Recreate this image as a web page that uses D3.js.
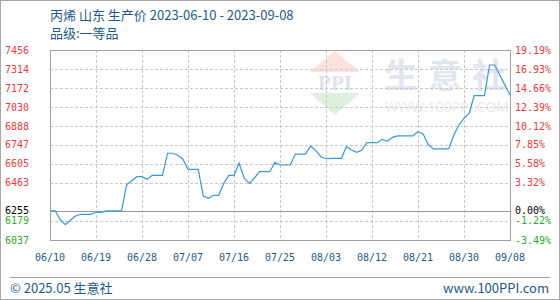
<!DOCTYPE html>
<html>
<head>
<meta charset="utf-8">
<script src="https://cdn.jsdelivr.net/npm/d3@7"></script>
<style>
body{margin:0;background:#fff}
</style>
</head>
<body>
<div id="chart"></div>
<script>
var startDay = "2023-06-10"
// daily prices, 06/10 .. 09/08
var prices = [6255, 6255, 6190, 6151, 6185, 6216, 6229, 6229, 6229, 6244,
	6244, 6255, 6255, 6255, 6255, 6450, 6480, 6510, 6510, 6490,
	6520, 6520, 6520, 6685, 6685, 6670, 6640, 6565, 6565, 6565,
	6365, 6348, 6371, 6371, 6460, 6520, 6520, 6610, 6498, 6460,
	6500, 6547, 6547, 6547, 6617, 6597, 6597, 6597, 6679, 6679,
	6679, 6739, 6705, 6659, 6644, 6647, 6647, 6647, 6734, 6709,
	6692, 6709, 6764, 6764, 6764, 6789, 6774, 6804, 6814, 6814,
	6814, 6814, 6846, 6829, 6750, 6717, 6717, 6717, 6717, 6821,
	6896, 6946, 6983, 7115, 7115, 7115, 7344, 7344, 7269, 7195,
	7120]
var baseValue = 6255
var leftTicks = [7456, 7314, 7172, 7030, 6888, 6747, 6605, 6463, 6255, 6179, 6037]
var rightLabels = ["19.19%", "16.93%", "14.66%", "12.39%", "10.12%", "7.85%", "5.58%", "3.32%", "0.00%", "-1.22%", "-3.49%"]
var xLabels = ["06/10", "06/19", "06/28", "07/07", "07/16", "07/25", "08/03", "08/12", "08/21", "08/30", "09/08"]

var w = 560, h = 300
var pl = 50, pr = 510, pt = 50, pb = 240
var blue = "#1d5a8a"

var start = d3.timeParse("%Y-%m-%d")(startDay)
var parseLabel = d3.timeParse("%Y/%m/%d")

var x = d3.scaleTime()
	.domain([start, d3.timeDay.offset(start, prices.length - 1)])
	.range([pl, pr])
var y = d3.scaleLinear()
	.domain([d3.min(leftTicks), d3.max(leftTicks)])
	.range([pb, pt])

function tickColor(v){
	if (v > baseValue) return "#f03a3a";
	if (v < baseValue) return "#2eaa2e";
	return "#000";
}

var svg = d3.select("#chart")
	.append("svg")
	.attr("width", w)
	.attr("height", h)
	.style("display", "block")

// outer frame
svg.append("rect")
	.attr("x", 0.5).attr("y", 0.5)
	.attr("width", w - 1).attr("height", h - 1)
	.attr("fill", "#fff")
	.attr("stroke", "#a8a8a8")

// watermark
var wm = svg.append("g").attr("class", "watermark")
wm.append("path")
	.attr("d", "M335,51 L310,72 L360,72 Z")
	.attr("fill", "#fbe3dc")
wm.append("text")
	.attr("x", 335).attr("y", 90)
	.attr("text-anchor", "middle")
	.attr("font-family", "Liberation Serif")
	.attr("font-weight", "bold")
	.attr("font-size", "21px")
	.attr("fill", "#dfe3ee")
	.text("PPI")
wm.append("path")
	.attr("d", "M310,93 L360,93 L335,115 Z")
	.attr("fill", "#ddf0dc")
wm.append("text")
	.attr("x", 384).attr("y", 88)
	.attr("font-family", "Noto Sans CJK SC")
	.attr("font-weight", "bold")
	.attr("font-size", "34px")
	.attr("letter-spacing", "10px")
	.attr("fill", "#e2e6ef")
	.text("生意社")
wm.append("text")
	.attr("x", 385).attr("y", 112)
	.attr("font-family", "Noto Sans")
	.attr("font-size", "15px")
	.attr("textLength", 124)
	.attr("lengthAdjust", "spacingAndGlyphs")
	.attr("fill", "#ebebeb")
	.text("WWW.100PPI.COM")

// horizontal grid
svg.append("g")
	.selectAll("line")
	.data(leftTicks.filter(function(d){ return d != baseValue && d != d3.max(leftTicks) && d != d3.min(leftTicks); }))
	.enter()
	.append("line")
	.attr("x1", pl).attr("x2", pr)
	.attr("y1", function(d){ return Math.round(y(d)) + 0.5; })
	.attr("y2", function(d){ return Math.round(y(d)) + 0.5; })
	.attr("stroke", "#c8c8c8")
	.attr("stroke-dasharray", "3,2")

// vertical grid
var xDates = xLabels.map(function(d){ return parseLabel("2023/" + d); })
svg.append("g")
	.selectAll("line")
	.data(xDates.slice(1, -1))
	.enter()
	.append("line")
	.attr("y1", pt).attr("y2", pb)
	.attr("x1", function(d){ return Math.round(x(d)) + 0.5; })
	.attr("x2", function(d){ return Math.round(x(d)) + 0.5; })
	.attr("stroke", "#c8c8c8")
	.attr("stroke-dasharray", "3,2")

// base line
svg.append("line")
	.attr("x1", pl).attr("x2", pr)
	.attr("y1", Math.round(y(baseValue)) + 0.5)
	.attr("y2", Math.round(y(baseValue)) + 0.5)
	.attr("stroke", "#9a9a9a")

// plot frame
svg.append("rect")
	.attr("x", pl + 0.5).attr("y", pt + 0.5)
	.attr("width", pr - pl).attr("height", pb - pt)
	.attr("fill", "none")
	.attr("stroke", "#a0a0a0")

// price line
var line = d3.line()
	.x(function(d, i){ return x(d3.timeDay.offset(start, i)); })
	.y(function(d){ return y(d); })
svg.append("path")
	.datum(prices)
	.attr("d", line)
	.attr("fill", "none")
	.attr("stroke", "#3a98d6")
	.attr("stroke-width", 1.2)

// left labels
svg.append("g")
	.selectAll("text")
	.data(leftTicks)
	.enter()
	.append("text")
	.attr("x", 5)
	.attr("y", function(d){ return y(d); })
	.attr("dy", "0.35em")
	.attr("font-family", "DejaVu Sans Mono")
	.attr("font-size", "10px")
	.attr("fill", function(d){ return tickColor(d); })
	.text(function(d){ return d; })

// right labels
svg.append("g")
	.selectAll("text")
	.data(leftTicks)
	.enter()
	.append("text")
	.attr("x", 515)
	.attr("y", function(d){ return y(d); })
	.attr("dy", "0.35em")
	.attr("font-family", "DejaVu Sans Mono")
	.attr("font-size", "10px")
	.attr("fill", function(d){ return tickColor(d); })
	.text(function(d, i){ return rightLabels[i]; })

// x labels
svg.append("g")
	.selectAll("text")
	.data(xLabels)
	.enter()
	.append("text")
	.attr("x", function(d, i){ return x(xDates[i]); })
	.attr("y", 261)
	.attr("text-anchor", "middle")
	.attr("font-family", "DejaVu Sans Mono")
	.attr("font-size", "10px")
	.attr("fill", blue)
	.text(function(d){ return d; })

// titles
svg.append("text")
	.attr("x", 50).attr("y", 20)
	.attr("font-family", "Noto Sans CJK SC")
	.attr("font-size", "13px")
	.attr("fill", blue)
	.text("丙烯 山东 生产价 2023-06-10 - 2023-09-08")
svg.append("text")
	.attr("x", 50).attr("y", 38)
	.attr("font-family", "Noto Sans CJK SC")
	.attr("font-size", "13px")
	.attr("fill", blue)
	.text("品级:一等品")

// footer
svg.append("line")
	.attr("x1", 10).attr("x2", 550)
	.attr("y1", 277.5).attr("y2", 277.5)
	.attr("stroke", "#a0a0a0")
svg.append("text")
	.attr("x", 10).attr("y", 293)
	.attr("font-family", "Noto Sans CJK SC")
	.attr("font-size", "13px")
	.attr("fill", blue)
	.text("© 2025.05 生意社")
svg.append("text")
	.attr("x", 549).attr("y", 293)
	.attr("text-anchor", "end")
	.attr("font-family", "Noto Sans CJK SC")
	.attr("font-size", "13px")
	.attr("fill", blue)
	.text("www.100PPI.com")
</script>
</body>
</html>
